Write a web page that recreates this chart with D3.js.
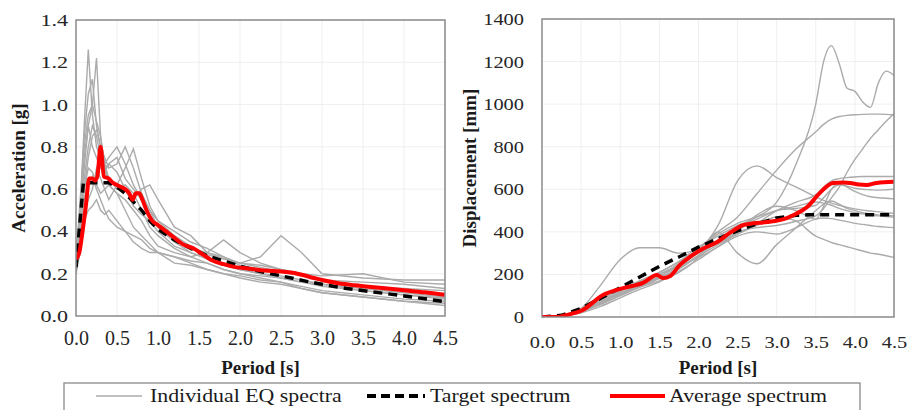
<!DOCTYPE html>
<html lang="en">
<head>
<meta charset="utf-8">
<title>Response spectra</title>
<script src="https://cdn.jsdelivr.net/npm/d3@7"></script>
<style>
  body { margin: 0; background: #fff; }
  svg { display: block; font-family: "Liberation Serif", "Times New Roman", serif; }
  .grid line { stroke: #efefef; stroke-width: 1; }
  .axis path, .axis line { display: none; }
  .axis text { fill: #262626; font-family: "Liberation Serif", serif; }
  .frame { fill: none; stroke: #8a8a8a; stroke-width: 1.5; }
  .title { font-weight: bold; font-size: 19px; fill: #1a1a1a; }
</style>
</head>
<body>
<script>
var w = 907, h = 410;

// ---- acceleration spectra (left) ----
var periodAcc = [0, 0.05, 0.1, 0.15, 0.2, 0.25, 0.3, 0.35, 0.4, 0.5, 0.6, 0.7, 0.8, 0.9, 1.0,
                 1.2, 1.4, 1.6, 1.8, 2.0, 2.25, 2.5, 2.75, 3.0, 3.5, 4.0, 4.5];
var eqAcc = [
  [0.25, 0.50, 0.90, 1.26, 0.95, 0.80, 0.75, 0.70, 0.65, 0.60, 0.62, 0.58, 0.50, 0.42, 0.38, 0.32, 0.28, 0.25, 0.22, 0.20, 0.19, 0.18, 0.16, 0.14, 0.12, 0.10, 0.08],
  [0.24, 0.45, 0.75, 0.90, 1.00, 1.22, 0.85, 0.70, 0.72, 0.68, 0.60, 0.52, 0.48, 0.45, 0.40, 0.33, 0.30, 0.27, 0.24, 0.22, 0.20, 0.19, 0.17, 0.15, 0.12, 0.10, 0.085],
  [0.22, 0.50, 0.85, 1.05, 1.12, 0.90, 0.80, 0.75, 0.70, 0.72, 0.80, 0.70, 0.58, 0.50, 0.42, 0.35, 0.30, 0.27, 0.25, 0.22, 0.20, 0.18, 0.16, 0.15, 0.13, 0.11, 0.09],
  [0.26, 0.55, 0.80, 0.95, 1.00, 0.92, 0.85, 0.72, 0.65, 0.62, 0.70, 0.79, 0.65, 0.52, 0.45, 0.38, 0.33, 0.29, 0.27, 0.25, 0.23, 0.21, 0.19, 0.17, 0.14, 0.12, 0.10],
  [0.20, 0.40, 0.60, 0.75, 0.85, 0.88, 0.80, 0.70, 0.62, 0.58, 0.55, 0.50, 0.45, 0.38, 0.33, 0.30, 0.28, 0.30, 0.36, 0.30, 0.25, 0.22, 0.20, 0.17, 0.16, 0.15, 0.13],
  [0.22, 0.35, 0.50, 0.55, 0.60, 0.70, 0.65, 0.60, 0.55, 0.62, 0.60, 0.55, 0.60, 0.62, 0.55, 0.42, 0.38, 0.30, 0.27, 0.25, 0.28, 0.38, 0.30, 0.20, 0.18, 0.17, 0.17],
  [0.20, 0.30, 0.45, 0.50, 0.52, 0.55, 0.50, 0.48, 0.50, 0.45, 0.40, 0.35, 0.32, 0.30, 0.30, 0.28, 0.26, 0.25, 0.22, 0.20, 0.18, 0.16, 0.13, 0.11, 0.09, 0.07, 0.05],
  [0.23, 0.40, 0.60, 0.70, 0.68, 0.62, 0.58, 0.60, 0.62, 0.58, 0.50, 0.42, 0.38, 0.34, 0.30, 0.28, 0.25, 0.22, 0.20, 0.18, 0.16, 0.15, 0.13, 0.11, 0.09, 0.07, 0.06],
  [0.21, 0.45, 0.65, 0.80, 0.90, 0.85, 0.75, 0.68, 0.72, 0.75, 0.65, 0.60, 0.55, 0.48, 0.42, 0.36, 0.32, 0.30, 0.28, 0.24, 0.22, 0.21, 0.20, 0.19, 0.20, 0.16, 0.15],
  [0.24, 0.42, 0.55, 0.62, 0.66, 0.60, 0.55, 0.50, 0.46, 0.42, 0.40, 0.38, 0.36, 0.32, 0.30, 0.25, 0.24, 0.22, 0.20, 0.19, 0.17, 0.16, 0.14, 0.12, 0.10, 0.08, 0.07],
  [0.25, 0.50, 0.70, 0.90, 0.80, 0.75, 0.70, 0.72, 0.75, 0.80, 0.72, 0.62, 0.55, 0.50, 0.45, 0.40, 0.35, 0.32, 0.28, 0.25, 0.24, 0.22, 0.20, 0.17, 0.14, 0.13, 0.12]
];
var targetAccT = [0, 0.09, 0.4, 0.5, 0.6, 0.7, 0.8, 0.9, 1.0, 1.2, 1.4, 1.6, 1.8, 2.0, 2.2, 2.5, 2.8, 3.0, 3.3, 3.6, 4.0, 4.5];
var targetAcc  = [0.23, 0.63, 0.63, 0.61, 0.58, 0.54, 0.50, 0.45, 0.41, 0.36, 0.32, 0.285, 0.26, 0.235, 0.215, 0.19, 0.165, 0.15, 0.13, 0.115, 0.095, 0.068];
var avgAccT = [0, 0.04, 0.08, 0.12, 0.16, 0.2, 0.23, 0.26, 0.3, 0.34, 0.4, 0.45, 0.5, 0.55, 0.6, 0.65, 0.69, 0.73, 0.77, 0.81, 0.86, 0.93,
               1.0, 1.1, 1.2, 1.3, 1.43, 1.55, 1.65, 1.8, 1.96, 2.1, 2.3, 2.5, 2.7, 2.9, 3.0, 3.2, 3.4, 3.6, 3.8, 4.0, 4.25, 4.5];
var avgAcc  = [0.27, 0.30, 0.40, 0.52, 0.65, 0.65, 0.64, 0.66, 0.80, 0.66, 0.65, 0.63, 0.62, 0.61, 0.60, 0.58, 0.55, 0.58, 0.58, 0.55, 0.50, 0.45,
               0.43, 0.40, 0.37, 0.34, 0.32, 0.29, 0.265, 0.245, 0.23, 0.225, 0.215, 0.21, 0.20, 0.18, 0.17, 0.155, 0.145, 0.137, 0.13, 0.122, 0.112, 0.10];

// ---- displacement spectra (right) ----
var periodDisp = [0, 0.25, 0.5, 0.75, 1, 1.25, 1.5, 1.75, 2, 2.25, 2.5, 2.75, 3, 3.25, 3.5,
                  3.6, 3.7, 3.8, 3.9, 4, 4.1, 4.2, 4.3, 4.4, 4.5];
var eqDisp = [
  [0, 5, 30, 70, 120, 170, 210, 260, 330, 380, 430, 470, 540, 720, 1000, 1200, 1275, 1190, 1075, 1060, 1010, 985, 1100, 1155, 1135],
  [0, 8, 35, 80, 125, 165, 200, 250, 320, 400, 470, 580, 690, 790, 870, 905, 930, 942, 947, 950, 952, 953, 953, 952, 950],
  [0, 6, 28, 65, 110, 150, 190, 240, 300, 350, 400, 420, 430, 450, 475, 510, 560, 610, 680, 740, 790, 840, 880, 920, 955],
  [0, 5, 40, 150, 270, 325, 325, 300, 320, 430, 640, 710, 655, 610, 565, 548, 535, 525, 515, 508, 502, 498, 494, 490, 488],
  [0, 4, 25, 60, 100, 140, 180, 225, 285, 340, 390, 440, 500, 540, 575, 610, 640, 650, 655, 658, 660, 660, 660, 660, 660],
  [0, 6, 35, 75, 115, 150, 190, 250, 320, 390, 440, 470, 500, 510, 525, 560, 600, 620, 615, 605, 600, 598, 596, 598, 600],
  [0, 5, 30, 70, 110, 150, 200, 240, 280, 330, 400, 480, 520, 500, 460, 520, 600, 630, 610, 590, 575, 565, 560, 558, 555],
  [0, 5, 25, 60, 100, 140, 170, 210, 280, 400, 300, 250, 340, 420, 500, 530, 545, 530, 510, 500, 490, 485, 480, 478, 475],
  [0, 7, 40, 85, 130, 170, 210, 260, 310, 360, 420, 460, 500, 520, 540, 535, 525, 510, 500, 490, 485, 480, 475, 472, 470],
  [0, 4, 20, 50, 90, 130, 165, 215, 270, 330, 380, 400, 390, 420, 460, 465, 462, 455, 448, 440, 435, 430, 425, 422, 420],
  [0, 5, 30, 70, 105, 145, 185, 230, 290, 350, 390, 430, 470, 450, 380, 365, 350, 340, 330, 320, 310, 300, 295, 288, 280]
];
var targetDispT = [0, 0.25, 0.5, 0.75, 1.0, 1.25, 1.5, 1.75, 2.0, 2.25, 2.5, 2.75, 3.0, 3.25, 3.4, 4.5];
var targetDisp  = [0, 8, 40, 88, 138, 188, 238, 282, 328, 368, 405, 438, 465, 478, 480, 480];
var avgDispT = [0, 0.2, 0.3, 0.52, 0.78, 1.04, 1.29, 1.47, 1.55, 1.64, 1.76, 1.89, 2.05, 2.24, 2.4, 2.57, 2.7, 2.88,
                3.13, 3.25, 3.39, 3.55, 3.72, 3.85, 3.94, 4.05, 4.15, 4.28, 4.5];
var avgDisp  = [0, 0, 8, 33, 103, 136, 160, 197, 183, 193, 244, 282, 320, 352, 395, 432, 440, 446,
                465, 485, 517, 582, 630, 632, 630, 622, 620, 630, 635];

var periodTicks = [0, 0.5, 1, 1.5, 2, 2.5, 3, 3.5, 4, 4.5];
var accTicks = [0, 0.2, 0.4, 0.6, 0.8, 1.0, 1.2, 1.4];
var dispTicks = [0, 200, 400, 600, 800, 1000, 1200, 1400];
var legendLabels = ["Individual EQ spectra", "Target spectrum", "Average spectrum"];

var svg = d3.select("body").append("svg")
            .attr("width", w)
            .attr("height", h);

function drawPanel(p) {
  var x = d3.scaleLinear().domain([0, 4.5]).range([p.left, p.right]);
  var y = d3.scaleLinear().domain([0, p.yMax]).range([p.bottom, p.top]);
  var g = svg.append("g");

  // gridlines
  g.append("g").attr("class", "grid").selectAll("line")
   .data(periodTicks.slice(1)).enter().append("line")
   .attr("x1", x).attr("x2", x).attr("y1", p.top).attr("y2", p.bottom);
  g.append("g").attr("class", "grid").selectAll("line")
   .data(p.yTicks.slice(1)).enter().append("line")
   .attr("x1", p.left).attr("x2", p.right).attr("y1", y).attr("y2", y);

  // axes (labels only)
  var ya = g.append("g").attr("class", "axis")
            .attr("transform", "translate(" + p.left + ",0)")
            .call(d3.axisLeft(y).tickValues(p.yTicks).tickFormat(p.yFormat).tickSize(0).tickPadding(0));
  ya.selectAll("text")
    .style("font-size", "17px")
    .attr("x", -p.yGap / p.ySx)
    .attr("transform", "scale(" + p.ySx + ",1)");

  var xa = g.append("g").attr("class", "axis")
            .attr("transform", "translate(0," + p.bottom + ")")
            .call(d3.axisBottom(x).tickValues(periodTicks).tickFormat(d3.format(".1f")).tickSize(0).tickPadding(p.xPad));
  xa.selectAll("text")
    .style("font-size", p.xFont + "px")
    .attr("transform", "scale(" + p.xSx + ",1)");

  // series
  var clipId = "clip" + p.left;
  svg.append("clipPath").attr("id", clipId).append("rect")
     .attr("x", p.left).attr("y", p.top).attr("width", p.right - p.left).attr("height", p.bottom - p.top);
  var plot = g.append("g").attr("clip-path", "url(#" + clipId + ")");

  var line = d3.line().curve(p.curve);
  plot.selectAll(".eq").data(p.eq).enter().append("path")
      .attr("class", "eq")
      .attr("fill", "none")
      .attr("stroke", "#ababab")
      .attr("stroke-width", 1.4)
      .attr("d", function(vals) {
        return line(vals.map(function(v, i) { return [x(p.period[i]), y(v)]; }));
      });

  plot.append("path")
      .attr("fill", "none")
      .attr("stroke", "#000")
      .attr("stroke-width", 3.5)
      .attr("stroke-dasharray", "9,6")
      .attr("d", d3.line()(p.targetT.map(function(t, i) { return [x(t), y(p.target[i])]; })));

  plot.append("path")
      .attr("fill", "none")
      .attr("stroke", "#ff0000")
      .attr("stroke-width", 4)
      .attr("stroke-linejoin", "round")
      .attr("d", d3.line().curve(d3.curveMonotoneX)(p.avgT.map(function(t, i) { return [x(t), y(p.avg[i])]; })));

  g.append("rect").attr("class", "frame")
   .attr("x", p.left).attr("y", p.top)
   .attr("width", p.right - p.left).attr("height", p.bottom - p.top);

  // titles
  g.append("text").attr("class", "title")
   .attr("text-anchor", "middle")
   .attr("x", (p.left + p.right) / 2)
   .attr("y", 374)
   .text("Period [s]");
  g.append("text").attr("class", "title")
   .attr("text-anchor", "middle")
   .attr("transform", "translate(" + p.yTitleX + ",168) rotate(-90)")
   .text(p.yTitle);
}

drawPanel({
  left: 76, right: 445, top: 20, bottom: 316,
  yMax: 1.4, yTicks: accTicks, yFormat: d3.format(".1f"),
  yGap: 8, ySx: 1.3, xPad: 15, xFont: 20, xSx: 1,
  period: periodAcc, eq: eqAcc, curve: d3.curveLinear,
  targetT: targetAccT, target: targetAcc, avgT: avgAccT, avg: avgAcc,
  yTitle: "Acceleration [g]", yTitleX: 25
});

drawPanel({
  left: 542, right: 894, top: 19, bottom: 317,
  yMax: 1400, yTicks: dispTicks, yFormat: d3.format("d"),
  yGap: 18, ySx: 1.2, xPad: 19, xFont: 17, xSx: 1.2,
  period: periodDisp, eq: eqDisp, curve: d3.curveMonotoneX,
  targetT: targetDispT, target: targetDisp, avgT: avgDispT, avg: avgDisp,
  yTitle: "Displacement [mm]", yTitleX: 476
});

// legend
var lg = svg.append("g");
lg.append("rect")
  .attr("x", 64).attr("y", 383)
  .attr("width", 796).attr("height", 40)
  .attr("fill", "#fff")
  .attr("stroke", "#8a8a8a")
  .attr("stroke-width", 1.3);

var legendItems = [
  {x: 96, len: 46, gap: 8, stroke: "#ababab", width: 1.6, dash: null},
  {x: 367, len: 58, gap: 5, stroke: "#000", width: 4, dash: "9,5"},
  {x: 610, len: 55, gap: 4, stroke: "#ff0000", width: 4, dash: null}
];
legendLabels.forEach(function(label, i) {
  var it = legendItems[i];
  lg.append("line")
    .attr("x1", it.x).attr("x2", it.x + it.len)
    .attr("y1", 396).attr("y2", 396)
    .attr("stroke", it.stroke)
    .attr("stroke-width", it.width)
    .attr("stroke-dasharray", it.dash);
  lg.append("text")
    .attr("transform", "translate(" + (it.x + it.len + it.gap) + ",402) scale(1.15,1)")
    .style("font-size", "19px")
    .attr("fill", "#1a1a1a")
    .text(label);
});
</script>
</body>
</html>
